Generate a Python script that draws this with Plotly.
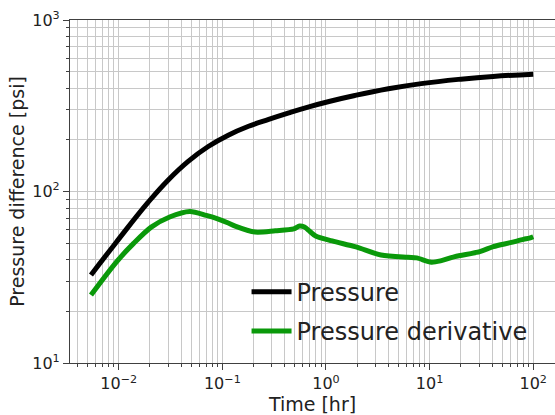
import plotly.graph_objects as go

# Pressure curve
time_p = [0.0054, 0.0094, 0.0191, 0.0299, 0.0468, 0.0731, 0.114, 0.179, 0.28, 0.438, 0.684,
          1.07, 1.9, 4.0, 8.3, 20.0, 41.0, 100.0]
pressure = [32.6, 50.3, 86.1, 116.5, 150.0, 183.0, 213.0, 240.0, 263.6, 287.6, 311.8,
            335.0, 363.0, 397.0, 425.6, 452.0, 469.0, 483.5]

# Pressure derivative curve
time_d = [0.0054, 0.0094, 0.014, 0.0206, 0.031, 0.0486, 0.07, 0.0915, 0.114, 0.133, 0.207, 0.325,
          0.489, 0.556, 0.62, 0.70, 0.795, 1.15, 1.95, 3.4, 6.2, 7.5, 10.4, 13.0, 17.5, 30.5, 41.2,
          60.0, 80.5, 92.0, 100.0]
deriv = [24.9, 38.5, 50.0, 62.0, 71.0, 76.5, 72.5, 69.0, 65.5, 62.8, 58.0, 59.0,
         60.5, 62.9, 62.0, 58.5, 55.0, 51.5, 47.5, 42.6, 41.3, 41.0, 38.7, 39.5, 41.7, 44.6, 47.7,
         50.3, 52.6, 53.5, 54.5]

x_major = [1e-2, 1e-1, 1e0, 1e1, 1e2]
x_major_text = ["10<sup>\u22122</sup>", "10<sup>\u22121</sup>", "10<sup>0</sup>", "10<sup>1</sup>", "10<sup>2</sup>"]
y_major = [1e1, 1e2, 1e3]
y_major_text = ["10<sup>1</sup>", "10<sup>2</sup>", "10<sup>3</sup>"]

x_minor = [m * 10.0 ** e for e in range(-3, 3) for m in range(2, 10)]
y_minor = [m * 10.0 ** e for e in range(1, 3) for m in range(2, 10)]

font = "DejaVu Sans"
grid = "#c8c8c8"
spine = "#404040"
txt = "#222222"

fig = go.Figure()
fig.add_trace(go.Scatter(x=time_p, y=pressure, mode="lines", name="Pressure",
                         line=dict(color="#000000", width=5, shape="spline", smoothing=1.3),
                         legendgroup="a"))
fig.add_trace(go.Scatter(x=time_d, y=deriv, mode="lines", name="Pressure derivative",
                         line=dict(color="#0a990a", width=5, shape="spline", smoothing=0.8),
                         legendgroup="b"))

fig.update_layout(
    width=555, height=415,
    margin=dict(l=70, r=0, t=20, b=52),
    paper_bgcolor="white", plot_bgcolor="white",
    font=dict(family=font, color=txt),
    legend=dict(x=0.364, y=0.272, xanchor="left", yanchor="top",
                bgcolor="rgba(0,0,0,0)", font=dict(size=24, family=font, color=txt),
                tracegroupgap=5, itemwidth=40),
    showlegend=True,
)
fig.update_xaxes(
    type="log", range=[-2.47, 2.21],
    tickmode="array", tickvals=x_major, ticktext=x_major_text,
    tickfont=dict(size=16, family=font, color=txt),
    ticks="outside", ticklen=6, tickcolor=spine, tickwidth=1,
    showgrid=True, gridcolor=grid, gridwidth=1,
    minor=dict(tickmode="array", tickvals=x_minor, ticks="outside", ticklen=3,
               tickcolor=spine, showgrid=True, gridcolor=grid, gridwidth=1),
    showline=True, linecolor=spine, linewidth=1.2, mirror=True,
    zeroline=False,
    title=dict(text="Time [hr]", font=dict(size=19, family=font, color=txt), standoff=2),
)
fig.update_yaxes(
    type="log", range=[1, 3],
    tickmode="array", tickvals=y_major, ticktext=y_major_text,
    tickfont=dict(size=16, family=font, color=txt),
    ticks="outside", ticklen=6, tickcolor=spine, tickwidth=1,
    showgrid=True, gridcolor=grid, gridwidth=1,
    minor=dict(tickmode="array", tickvals=y_minor, ticks="outside", ticklen=3,
               tickcolor=spine, showgrid=True, gridcolor=grid, gridwidth=1),
    showline=True, linecolor=spine, linewidth=1.2,
    zeroline=False,
    title=dict(text="Pressure difference [psi]", font=dict(size=19, family=font, color=txt), standoff=2),
)

fig.write_html("out.html", config={"displayModeBar": False},
               post_script="document.body.style.margin='0';document.body.style.overflow='hidden';")
